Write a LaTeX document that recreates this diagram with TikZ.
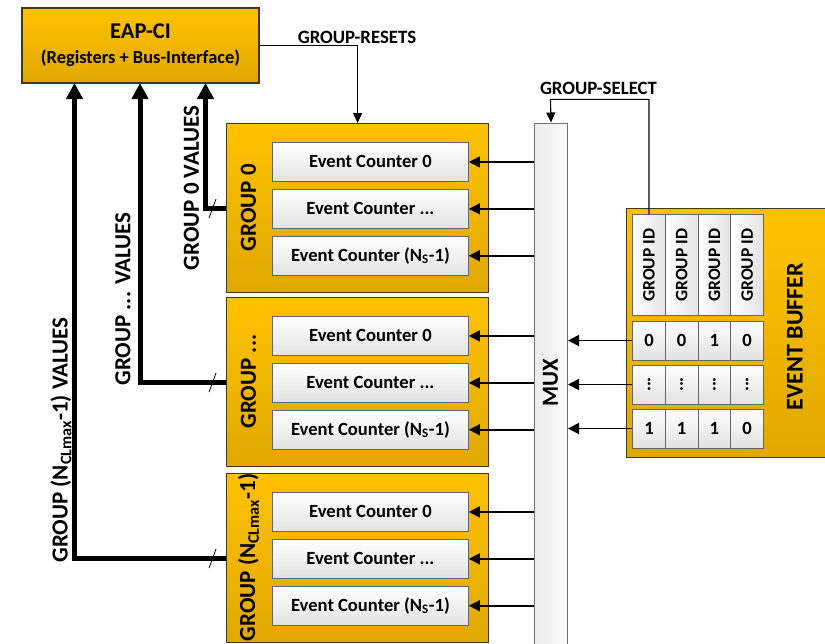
\documentclass[tikz,border=0pt]{standalone}
\usepackage{fontspec}
\setmainfont{Carlito}
\usetikzlibrary{arrows.meta,positioning}
\definecolor{cGoldTop}{RGB}{255,194,0}
\definecolor{cGoldBot}{RGB}{224,168,0}
\definecolor{cEdge}{RGB}{70,56,20}
\definecolor{cCellBot}{RGB}{226,226,226}
\definecolor{cMuxL}{RGB}{236,236,236}
\definecolor{cMuxR}{RGB}{250,250,250}
\newcommand{\sizebf}[1]{\fontsize{#1}{#1}\selectfont\bfseries}
\tikzset{
  goldbox/.style={rectangle,draw=cEdge,line width=1.2pt,top color=cGoldTop,
                  bottom color=cGoldBot,inner sep=0pt},
  grpbox/.style={goldbox,minimum width=262,minimum height=169,anchor=north west},
  cntbox/.style={rectangle,draw=black!60,line width=0.9pt,top color=white,
                 bottom color=cCellBot,minimum width=196,minimum height=39,
                 inner sep=0pt,font=\sizebf{18.6}},
  hdrcell/.style={rectangle,draw=black!60,line width=0.9pt,left color=white,
                  right color=cCellBot,minimum width=32.7,minimum height=101,
                  inner sep=0pt,font=\sizebf{17.5}},
  bitcell/.style={rectangle,draw=black!60,line width=0.9pt,top color=white,
                  bottom color=cCellBot,minimum width=32.7,minimum height=39,
                  inner sep=0pt,font=\sizebf{18.6}},
  muxbox/.style={rectangle,draw=black!55,line width=1pt,left color=cMuxL,
                 right color=cMuxR,minimum width=33,minimum height=540,
                 anchor=north west},
  biglbl/.style={font=\sizebf{23},rotate=90,inner sep=0pt},
  smllbl/.style={font=\sizebf{18.8},inner sep=0pt},
  sigarr/.style={-{Triangle[length=11pt,width=11pt]},line width=1.8pt},
  ctlarr/.style={-{Triangle[length=10pt,width=9pt]},line width=1.1pt},
  valarr/.style={-{Triangle[length=16pt,width=16pt]},line width=5pt}
}

\begin{document}
\begin{tikzpicture}[x=1pt,y=-1pt]
  \useasboundingbox (0,0) rectangle (825,643);
  \clip (0,0) rectangle (825,643);

  % Control interface
  \node[goldbox,minimum width=237,minimum height=75,align=center,
        font=\fontsize{18.4}{22}\selectfont\bfseries] (eap) at (140.5,45.5)
    {{\sizebf{22.5}EAP-CI}\\[3pt](Registers + Bus-Interface)};

  % Counter groups
  \foreach \g/\y/\name in {0/123/{GROUP 0},1/297/{GROUP ...},
                           2/473/{GROUP (N\textsubscript{CLmax}-1)}} {
    \node[grpbox] (g\g) at (226,\y) {};
    \node[biglbl] (gl\g) at (248.5,\y+84.5) {\name};
    \node[cntbox,anchor=north west] (c\g0) at (272,\y+19) {Event Counter 0};
    \node[cntbox,below=7pt of c\g0] (c\g1) {Event Counter ...};
    \node[cntbox,below=7pt of c\g1] (c\g2) {Event Counter (N\textsubscript{S}-1)};
  }

  % Multiplexer
  \node[muxbox] (mux) at (534,122.5) {};
  \node[biglbl] (muxl) at (550.5,383) {MUX};
  \foreach \g in {0,1,2}
    \foreach \c in {0,1,2}
      \draw[sigarr] (mux.west |- c\g\c.east) -- (c\g\c.east);

  % Event buffer
  \node[goldbox,minimum width=215,minimum height=249,anchor=north west] (eb) at (626,208) {};
  \node[biglbl,font=\sizebf{24}] (ebl) at (795,336.5) {EVENT BUFFER};
  \foreach \i/\x/\a/\b in {1/649/0/1,2/681.7/0/1,3/714.4/1/1,4/747.1/0/0} {
    \node[hdrcell] (h\i) at (\x,265.3) {\rotatebox{90}{GROUP ID}};
    \node[bitcell] (d1\i) at (\x,340.5) {\a};
    \node[bitcell] (d2\i) at (\x,384.5) {\rotatebox{90}{...}};
    \node[bitcell] (d3\i) at (\x,428.5) {\b};
  }
  \foreach \r in {1,2,3}
    \draw[sigarr] (d\r1.west) -- (mux.east |- d\r1.west);

  % Resets and select
  \coordinate (selturn) at (550.5,99.3);
  \draw[ctlarr] (h1.north) |- (selturn) -- (mux.north);
  \draw[ctlarr] (eap.east) -| (g0.north);
  \node[smllbl] (rstl) at (357,37) {GROUP-RESETS};
  \node[smllbl] (sell) at (598.5,88.5) {GROUP-SELECT};

  % Value buses back to the interface
  \coordinate (v0) at (205.5,83);
  \coordinate (v1) at (140,83);
  \coordinate (v2) at (74.5,83);
  \foreach \g in {0,1,2} {
    \draw[valarr] (g\g.west) -| (v\g);
    \draw[line width=0.8pt] ([xshift=-17pt,yshift=-10pt]g\g.west)
      -- ([xshift=-10pt,yshift=9pt]g\g.west);
  }
  \node[biglbl] (vl0) at (191.5,188) {GROUP 0 VALUES};
  \node[biglbl] (vl1) at (123,299) {GROUP ... VALUES};
  \node[biglbl] (vl2) at (61,440) {GROUP (N\textsubscript{CLmax}-1) VALUES};
\end{tikzpicture}
\end{document}
